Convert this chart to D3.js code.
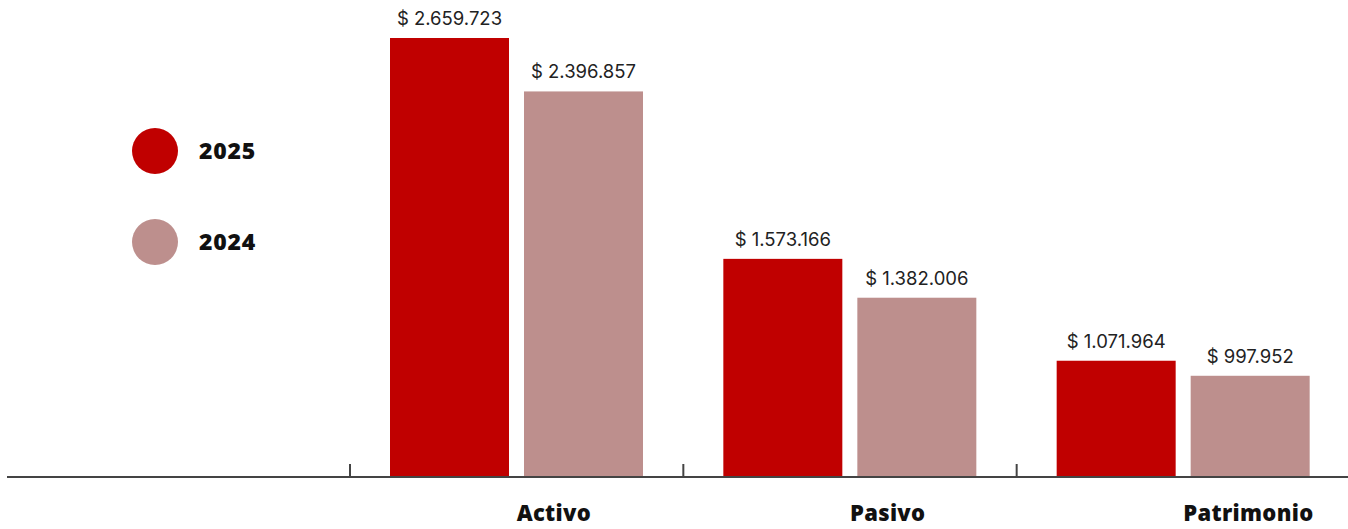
<!DOCTYPE html>
<html>
<head>
<meta charset="utf-8">
<script src="https://cdn.jsdelivr.net/npm/d3@7"></script>
<style>
  body { margin: 0; background: #fff; }
  svg { display: block; }
</style>
</head>
<body>
<div id="chart"></div>
<script>
const width = 1348,
    height = 529;

// Data
const categories = ['Activo', 'Pasivo', 'Patrimonio'];
const years = ['2025', '2024'];
const values2025 = [2659723, 1573166, 1071964];
const values2024 = [2396857, 1382006, 997952];

const colors = { '2025': '#c00000', '2024': '#bd8f8d' };

let svg = d3.select('#chart').append('svg')
    .attr('width', width)
    .attr('height', height);

const baseY = 477;

// Outer band per category, inner band per year
let x = d3.scaleBand()
    .domain(categories)
    .range([350, 1350]);

let xInner = d3.scaleBand()
    .domain(years)
    .range([40, 293])
    .paddingInner(0.112);

// Value axis does not start at zero in the original
let y = d3.scaleLinear()
    .domain([500000, 2659723])
    .range([baseY, 38]);

const fmt = v => '$ ' + d3.format(',')(v).replace(/,/g, '.');

let rows = categories.map((c, i) => ({
    category: c,
    bars: [
        { year: '2025', value: values2025[i] },
        { year: '2024', value: values2024[i] }
    ]
}));

let groups = svg.append('g')
    .selectAll('g')
    .data(rows)
    .enter()
    .append('g')
    .attr('transform', d => `translate(${x(d.category)},0)`);

groups.selectAll('rect')
    .data(d => d.bars)
    .enter()
    .append('rect')
    .attr('x', d => xInner(d.year))
    .attr('y', d => y(d.value))
    .attr('width', xInner.bandwidth())
    .attr('height', d => baseY - y(d.value))
    .attr('fill', d => colors[d.year]);

groups.selectAll('text.value')
    .data(d => d.bars)
    .enter()
    .append('text')
    .attr('class', 'value')
    .attr('x', d => xInner(d.year) + xInner.bandwidth() / 2)
    .attr('y', d => y(d.value) - 13)
    .attr('text-anchor', 'middle')
    .style('font-family', 'Inter, sans-serif')
    .style('font-size', '18.5px')
    .style('fill', '#222')
    .text(d => fmt(d.value));

// Axis line and upward ticks
let axis = svg.append('g');
axis.append('line')
    .attr('x1', 7).attr('x2', width)
    .attr('y1', baseY).attr('y2', baseY)
    .style('stroke', '#444')
    .style('stroke-width', 2);

axis.selectAll('line.tick')
    .data(categories)
    .enter()
    .append('line')
    .attr('class', 'tick')
    .attr('x1', d => x(d)).attr('x2', d => x(d))
    .attr('y1', baseY - 13).attr('y2', baseY)
    .style('stroke', '#444')
    .style('stroke-width', 2);

axis.selectAll('text')
    .data(categories)
    .enter()
    .append('text')
    .attr('x', d => x(d) + x.bandwidth() / 2)
    .attr('y', 521)
    .style('font-family', '"Open Sans", sans-serif')
    .style('font-weight', 800)
    .style('font-size', '22px')
    .style('letter-spacing', '0.3px')
    .style('fill', '#111')
    .text(d => d);

// Legend
let legend = svg.append('g')
    .selectAll('g')
    .data(years)
    .enter()
    .append('g')
    .attr('transform', (d, i) => `translate(155,${151 + i * 91})`);

legend.append('circle')
    .attr('r', 23)
    .attr('fill', d => colors[d]);

legend.append('text')
    .attr('x', 44)
    .attr('y', 8)
    .style('font-family', '"Open Sans", sans-serif')
    .style('font-weight', 800)
    .style('font-size', '23px')
    .style('letter-spacing', '0.8px')
    .style('fill', '#111')
    .text(d => d);
</script>
</body>
</html>
